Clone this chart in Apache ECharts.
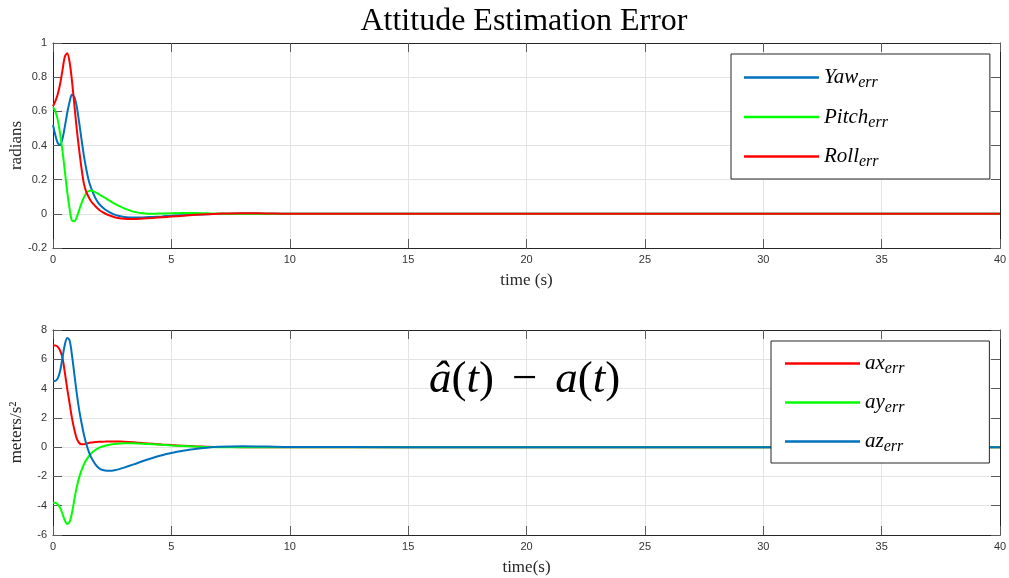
<!DOCTYPE html>
<html><head><meta charset="utf-8">
<script src="https://cdn.jsdelivr.net/npm/echarts/dist/echarts.min.js"></script>
<style>html,body{margin:0;padding:0;background:#fff}#c{width:1009px;height:578px}</style>
</head><body><div id="c"></div>
<script>
// ---- data ----
const tTop = [0,0.1,0.2,0.3,0.4,0.5,0.6,0.7,0.8,0.9,1.0,1.1,1.2,1.3,1.4,1.5,1.6,1.7,1.8,1.9,2.0,2.2,2.4,2.6,2.8,3.0,3.4,3.8,4.2,4.6,5,5.5,6,6.5,7,8,9,10,15,20,25,30,35,40];
const yawErr = [0.52,0.46,0.415,0.405,0.44,0.51,0.59,0.655,0.698,0.685,0.63,0.54,0.44,0.345,0.265,0.2,0.155,0.12,0.09,0.067,0.05,0.025,0.008,-0.005,-0.013,-0.018,-0.022,-0.021,-0.018,-0.015,-0.011,-0.008,-0.005,-0.002,0,0.002,0.001,0,0,0,0,0,0,0];
const pitchErr = [0.625,0.60,0.55,0.47,0.37,0.25,0.13,0.03,-0.04,-0.043,-0.02,0.02,0.06,0.095,0.12,0.133,0.136,0.133,0.126,0.118,0.11,0.093,0.076,0.06,0.045,0.032,0.013,0.003,0,0.002,0.004,0.005,0.005,0.003,0.001,0,0,0,0,0,0,0,0,0];
const rollErr = [0.63,0.66,0.70,0.76,0.84,0.92,0.94,0.89,0.78,0.64,0.50,0.38,0.27,0.18,0.13,0.10,0.075,0.058,0.043,0.03,0.018,0.002,-0.01,-0.02,-0.026,-0.029,-0.03,-0.027,-0.024,-0.02,-0.016,-0.011,-0.006,-0.002,0.001,0.004,0.002,0,0,0,0,0,0,0];

const tBot = [0,0.1,0.2,0.3,0.4,0.5,0.6,0.7,0.8,0.9,1.0,1.1,1.2,1.3,1.4,1.5,1.6,1.7,1.8,1.9,2.0,2.2,2.4,2.6,2.8,3.0,3.4,3.8,4.2,4.6,5,5.5,6,6.5,7,8,9,10,15,20,25,30,35,40];
const axErr = [6.95,6.95,6.85,6.6,6.1,5.1,4.0,3.0,2.0,1.2,0.6,0.3,0.2,0.2,0.24,0.28,0.31,0.33,0.35,0.36,0.37,0.38,0.39,0.39,0.38,0.37,0.33,0.28,0.23,0.18,0.14,0.1,0.06,0.03,0.01,0,0,0,0,0,0,0,0,0];
const ayErr = [-3.8,-3.8,-3.9,-4.15,-4.55,-5.0,-5.25,-5.1,-4.5,-3.6,-2.75,-2.1,-1.6,-1.2,-0.9,-0.65,-0.45,-0.3,-0.18,-0.08,0.0,0.1,0.17,0.22,0.25,0.26,0.26,0.24,0.2,0.16,0.12,0.08,0.04,0.01,0,0,0,0,0,0,0,0,0,0];
const azErr = [4.5,4.52,4.7,5.2,6.1,7.0,7.45,7.3,6.3,5.0,3.7,2.6,1.7,0.9,0.25,-0.25,-0.65,-0.95,-1.2,-1.38,-1.5,-1.6,-1.62,-1.58,-1.5,-1.4,-1.18,-0.95,-0.74,-0.55,-0.4,-0.25,-0.13,-0.04,0.02,0.06,0.04,0.01,0,0,0,0,0,0];

const topNames = ['Yaw','Pitch','Roll'];
const botNames = ['ax','ay','az'];
const titleText = 'Attitude Estimation Error';

// ---- styling ----
const serif = '"Liberation Serif","DejaVu Serif",serif';
const sans = '"Liberation Sans",Arial,sans-serif';
const C_BLUE = '#0072BD', C_GREEN = '#00FF00', C_RED = '#FF0000';

const pairs = (t, v) => t.map((x, i) => [x, v[i]]);

function xAxes(gi, name) {
  const base = {gridIndex: gi, type: 'value', min: 0, max: 40, interval: 5,
    axisLine: {show: true, onZero: false, lineStyle: {color: '#262626', width: 1}},
    axisTick: {show: true, inside: true, length: 9, lineStyle: {color: '#5a5a5a'}}};
  return [
    Object.assign({}, base, {position: 'bottom',
      axisLabel: {color: '#333', fontFamily: sans, fontSize: 11, margin: 6},
      splitLine: {show: true, lineStyle: {color: '#e3e3e3', width: 1}},
      name: name, nameLocation: 'middle', nameGap: 24, nameMoveOverlap: false,
      nameTextStyle: {fontFamily: serif, fontSize: 17, color: '#262626'}}),
    Object.assign({}, base, {position: 'top', axisLabel: {show: false}, splitLine: {show: false}})
  ];
}
function yAxes(gi, min, max, step, name) {
  const base = {gridIndex: gi, type: 'value', min: min, max: max, interval: step,
    axisLine: {show: true, onZero: false, lineStyle: {color: '#262626', width: 1}},
    axisTick: {show: true, inside: true, length: 9, lineStyle: {color: '#5a5a5a'}}};
  return [
    Object.assign({}, base, {position: 'left',
      axisLabel: {color: '#333', fontFamily: sans, fontSize: 11, margin: 6},
      splitLine: {show: true, lineStyle: {color: '#e3e3e3', width: 1}},
      name: name, nameLocation: 'middle', nameGap: 28, nameMoveOverlap: false,
      nameTextStyle: {fontFamily: serif, fontSize: 17, color: '#262626'}}),
    Object.assign({}, base, {position: 'right', axisLabel: {show: false}, splitLine: {show: false}})
  ];
}
function legendCfg(names, left, top, pad, gap) {
  return {data: names, orient: 'vertical', left: left, top: top, icon: 'rect',
    itemWidth: 75, itemHeight: 2.5, itemGap: gap, padding: pad,
    backgroundColor: '#fff', borderColor: '#262626', borderWidth: 1, borderRadius: 0,
    selectedMode: false, z: 10,
    formatter: n => '{m|' + n + '}{s|err}',
    textStyle: {rich: {
      m: {fontFamily: serif, fontStyle: 'italic', fontSize: 21, color: '#000'},
      s: {fontFamily: serif, fontStyle: 'italic', fontSize: 16, color: '#000', padding: [11, 0, 0, 0]}
    }}};
}
function line(name, xi, yi, data, color) {
  return {name: name, type: 'line', xAxisIndex: xi, yAxisIndex: yi, data: data,
    showSymbol: false, smooth: 0.3, color: color,
    lineStyle: {color: color, width: 2}};
}

const chart = echarts.init(document.getElementById('c'), null, {renderer: 'canvas'});
chart.setOption({
  animation: false,
  backgroundColor: '#fff',
  title: {text: titleText, left: 519, textAlign: 'center', top: 1,
    textStyle: {fontFamily: serif, fontWeight: 'normal', fontSize: 32, color: '#000'}},
  grid: [
    {left: 53, right: 9, top: 43, height: 205, containLabel: false, outerBoundsMode: 'none'},
    {left: 53, right: 9, top: 330, height: 205, containLabel: false, outerBoundsMode: 'none'}
  ],
  xAxis: [].concat(xAxes(0, 'time (s)'), xAxes(1, 'time(s)')),
  yAxis: [].concat(yAxes(0, -0.2, 1, 0.2, 'radians'), yAxes(1, -6, 8, 2, 'meters/s²')),
  legend: [
    legendCfg(topNames, 731, 54, [13, 102, 9, 13], 15.5),
    legendCfg(botNames, 771, 341, [12, 85, 8, 14], 15)
  ],
  graphic: [{
    type: 'text', left: 429, top: 358, z: 5,
    style: {
      text: '{i|â}{n|(}{i|t}{n|)}{m|−}{i|a}{n|(}{i|t}{n|)}',
      rich: {
        i: {fontFamily: serif, fontStyle: 'italic', fontSize: 45, fill: '#000'},
        n: {fontFamily: serif, fontSize: 45, fill: '#000'},
        m: {fontFamily: serif, fontSize: 45, fill: '#000', padding: [0, 18, 0, 18]}
      },
      fill: '#000'
    }
  }],
  series: [
    line('Yaw', 0, 0, pairs(tTop, yawErr), C_BLUE),
    line('Pitch', 0, 0, pairs(tTop, pitchErr), C_GREEN),
    line('Roll', 0, 0, pairs(tTop, rollErr), C_RED),
    line('ax', 2, 2, pairs(tBot, axErr), C_RED),
    line('ay', 2, 2, pairs(tBot, ayErr), C_GREEN),
    line('az', 2, 2, pairs(tBot, azErr), C_BLUE)
  ]
});
</script></body></html>
